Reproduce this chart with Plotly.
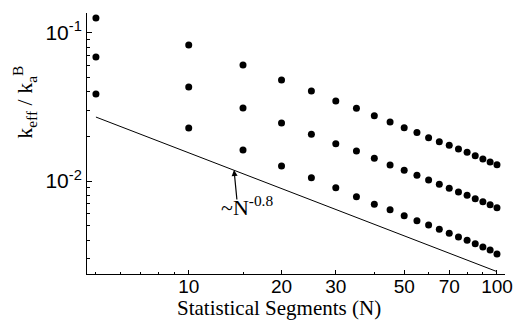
import plotly.graph_objects as go

N = [5, 10, 15, 20, 25, 30, 35, 40, 45, 50, 55, 60, 65, 70, 75, 80, 85, 90, 95, 100]
k_top = [0.1256, 0.0826, 0.0605, 0.0480, 0.0404, 0.0346, 0.0309, 0.0275, 0.0250, 0.0229,
         0.0212, 0.0196, 0.0184, 0.0174, 0.01644, 0.01563, 0.01482, 0.01407, 0.01343, 0.01288]
k_mid = [0.0686, 0.0430, 0.0311, 0.0246, 0.0207, 0.01786, 0.01592, 0.01422, 0.01282, 0.01181,
         0.01092, 0.01016, 0.00950, 0.00893, 0.00843, 0.00801, 0.00760, 0.00725, 0.00692, 0.00661]
k_bot = [0.0386, 0.0228, 0.01618, 0.01262, 0.01052, 0.00901, 0.00783, 0.00696, 0.00640, 0.00583,
         0.00540, 0.00505, 0.00472, 0.00444, 0.00419, 0.00398, 0.00378, 0.00359, 0.00343, 0.00322]
fit_N = [5, 100]
fit_k = [0.0270, 0.00245]

x_ticks = [10, 20, 30, 50, 70, 100]
x_ticktext = ["10", "20", "30", "50", "70", "100"]
x_minor = [5, 6, 7, 8, 9, 15, 40, 60, 80, 90]
y_ticks = [0.1, 0.01]
y_ticktext = ["10<sup>-1</sup>", "10<sup>-2</sup>"]
y_minor = [0.003, 0.004, 0.005, 0.006, 0.007, 0.008, 0.009,
           0.02, 0.03, 0.04, 0.05, 0.06, 0.07, 0.08, 0.09]

fig = go.Figure()
for ys in (k_top, k_mid, k_bot):
    fig.add_trace(go.Scatter(x=N, y=ys, mode="markers",
                             marker=dict(color="black", size=7), showlegend=False))
fig.add_trace(go.Scatter(x=fit_N, y=fit_k, mode="lines",
                         line=dict(color="black", width=1), showlegend=False))

serif = "Liberation Serif, Times New Roman, serif"
sans = "Liberation Sans, Arial, sans-serif"

fig.update_layout(
    width=525, height=322,
    margin=dict(l=87, r=15, t=13, b=48),
    paper_bgcolor="white", plot_bgcolor="white",
    xaxis=dict(type="log", range=[0.67, 2.026], showgrid=False, zeroline=False,
               showline=True, linecolor="black", linewidth=1,
               ticks="inside", ticklen=4, tickcolor="black",
               tickmode="array", tickvals=x_ticks, ticktext=x_ticktext,
               ticklabelstandoff=-5,
               tickfont=dict(family=sans, size=19, color="black"),
               minor=dict(ticks="inside", ticklen=2, tickcolor="black",
                          tickmode="array", tickvals=x_minor, showgrid=False)),
    yaxis=dict(type="log", range=[-2.627, -0.867], showgrid=False, zeroline=False,
               showline=True, linecolor="black", linewidth=1,
               ticks="inside", ticklen=5, tickcolor="black",
               tickmode="array", tickvals=y_ticks, ticktext=y_ticktext,
               tickfont=dict(family=sans, size=21, color="black"),
               minor=dict(ticks="inside", ticklen=3, tickcolor="black",
                          tickmode="array", tickvals=y_minor, showgrid=False)),
    annotations=[
        dict(text="Statistical Segments (N)", xref="paper", yref="paper",
             x=(281 - 87) / 423, y=(274 - 308) / 261, xanchor="center", yanchor="middle",
             showarrow=False, font=dict(family=serif, size=21, color="black")),
        dict(text="k<sub>eff</sub> / k<sub>a</sub><sup>B</sup>", xref="paper", yref="paper",
             x=(23 - 87) / 423, y=(274 - 102) / 261, xanchor="center", yanchor="middle",
             textangle=-90, showarrow=False, font=dict(family=serif, size=22, color="black")),
        dict(text="~N<sup>-0.8</sup>", xref="x", yref="y",
             x=1.19, y=-2.17, xanchor="center", yanchor="middle",
             showarrow=False, font=dict(family=serif, size=22, color="black")),
        dict(text="", xref="x", yref="y", x=1.147, y=-1.926,
             showarrow=True, ax=3, ay=31, arrowhead=2, arrowsize=1, arrowwidth=1.2,
             arrowcolor="black"),
    ],
)

fig.write_html("out.html")
